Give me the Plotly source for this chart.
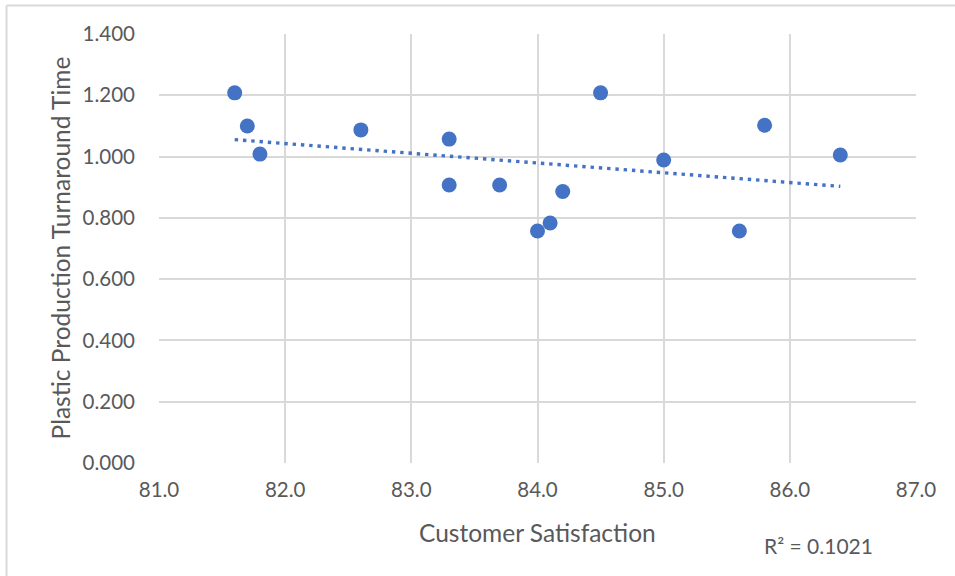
import numpy as np
import plotly.graph_objects as go

# Customer satisfaction score vs. plastic production turnaround time
satisfaction = [81.6, 81.7, 81.8, 82.6, 83.3, 83.3, 83.7, 84.0, 84.1, 84.2, 84.5, 85.0, 85.6, 85.8, 86.4]
turnaround = [1.208, 1.100, 1.008, 1.087, 1.057, 0.907, 0.907, 0.757, 0.783, 0.886, 1.208, 0.989, 0.757, 1.102, 1.005]

x_ticks = [81, 82, 83, 84, 85, 86, 87]
y_ticks = [0, 0.2, 0.4, 0.6, 0.8, 1.0, 1.2, 1.4]
r2_label = "R² = 0.1021"

BLUE = "#4472C4"
GRID = "#D9D9D9"
TEXT = "#595959"
FONT = "Lato, Open Sans, sans-serif"

# Linear trendline spanning the data range
slope, intercept = np.polyfit(satisfaction, turnaround, 1)
trend_x = [min(satisfaction), max(satisfaction)]
trend_y = [slope * v + intercept for v in trend_x]

fig = go.Figure()
fig.add_trace(go.Scatter(
    x=trend_x, y=trend_y, mode="lines",
    line=dict(color=BLUE, width=3.4, dash="3.4px,4.9px"),
    hoverinfo="skip", showlegend=False,
))
fig.add_trace(go.Scatter(
    x=satisfaction, y=turnaround, mode="markers",
    marker=dict(color=BLUE, size=15, line=dict(width=0)),
    showlegend=False,
))

W, H = 955, 576
L, R, T, B = 159, 39, 34, 113
pw, ph = W - L - R, H - T - B

def px(xp):
    return (xp - L) / pw

def py(yp):
    return (H - B - yp) / ph

fig.update_layout(
    width=W, height=H,
    margin=dict(l=L, r=R, t=T, b=B, pad=0),
    paper_bgcolor="white", plot_bgcolor="white",
    font=dict(family=FONT, color=TEXT, size=20),
    xaxis=dict(
        range=[81, 87], tickvals=x_ticks,
        ticktext=[f"{v:.1f}" for v in x_ticks],
        showgrid=True, gridcolor=GRID, gridwidth=2,
        zeroline=False, showline=False, ticks="", ticklabelstandoff=12,
        tickfont=dict(size=20.5, color=TEXT),
    ),
    yaxis=dict(
        range=[0, 1.4], tickvals=y_ticks,
        ticktext=[f"{v:.3f}" for v in y_ticks],
        showgrid=True, gridcolor=GRID, gridwidth=2,
        zeroline=False, showline=False, ticks="", ticklabelstandoff=23,
        tickfont=dict(size=20.5, color=TEXT),
    ),
    annotations=[
        dict(text="Customer Satisfaction", x=0.5, y=py(532), xref="paper", yref="paper",
             showarrow=False, font=dict(size=24.5, color=TEXT), xanchor="center", yanchor="middle"),
        dict(text="Plastic Production Turnaround Time", x=px(60), y=0.5, xref="paper", yref="paper",
             showarrow=False, textangle=-90, font=dict(size=24.5, color=TEXT),
             xanchor="center", yanchor="middle"),
        dict(text=r2_label, x=px(818), y=py(545), xref="paper", yref="paper",
             showarrow=False, font=dict(size=21, color=TEXT), xanchor="center", yanchor="middle"),
    ],
    shapes=[
        # chart-area frame
        dict(type="line", xref="paper", yref="paper", x0=px(6.5), x1=px(960), y0=py(5.5), y1=py(5.5),
             line=dict(color=GRID, width=2)),
        dict(type="line", xref="paper", yref="paper", x0=px(6.5), x1=px(6.5), y0=py(5.5), y1=py(580),
             line=dict(color=GRID, width=2)),
    ],
)

fig.write_html("out.html")
